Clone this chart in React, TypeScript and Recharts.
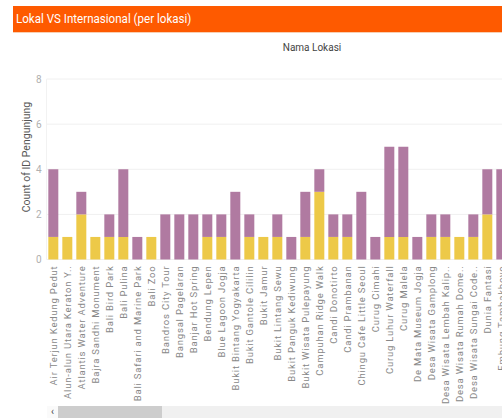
import React from 'react';
import { BarChart, Bar, XAxis, YAxis, CartesianGrid } from 'recharts';

const locations = [
  'Air Terjun Kedung Pedut',
  'Alun-alun Utara Keraton Y..',
  'Atlantis Water Adventure',
  'Bajra Sandhi Monument',
  'Bali Bird Park',
  'Bali Pulina',
  'Bali Safari and Marine Park',
  'Bali Zoo',
  'Bandros City Tour',
  'Bangsal Pagelaran',
  'Banjar Hot Spring',
  'Bendung Lepen',
  'Blue Lagoon Jogja',
  'Bukit Bintang Yogyakarta',
  'Bukit Gantole Cililin',
  'Bukit Jamur',
  'Bukit Lintang Sewu',
  'Bukit Panguk Kediwung',
  'Bukit Wisata Pulepayung',
  'Campuhan Ridge Walk',
  'Candi Donotirto',
  'Candi Prambanan',
  'Chingu Cafe Little Seoul',
  'Curug Cimahi',
  'Curug Luhur Waterfall',
  'Curug Malela',
  'De Mata Museum Jogja',
  'Desa Wisata Gamplong',
  'Desa Wisata Lembah Kalip..',
  'Desa Wisata Rumah Dome..',
  'Desa Wisata Sungai Code..',
  'Dunia Fantasi',
  'Embung Tambakboyo',
];

// yellow (bottom) and purple (top) segments
const lokal = [1, 1, 2, 1, 1, 1, 0, 1, 0, 0, 0, 1, 1, 0, 1, 1, 1, 0, 1, 3, 1, 1, 0, 0, 1, 1, 0, 1, 1, 1, 1, 2, 0];
const internasional = [3, 0, 1, 0, 1, 3, 1, 0, 2, 2, 2, 1, 1, 3, 1, 0, 1, 1, 2, 1, 1, 1, 3, 1, 4, 4, 1, 1, 1, 0, 1, 2, 4];

const yTicks = [0, 2, 4, 6, 8];

const data = locations.map((name, i) => ({
  name,
  lokal: lokal[i],
  internasional: internasional[i],
}));

const XTick = (props: any) => {
  const { x, y, payload } = props;
  const ty = y + 6;
  return (
    <text
      x={x}
      y={ty}
      dy="0.35em"
      textAnchor="end"
      transform={`rotate(-90, ${x}, ${ty})`}
      fontSize={9.5}
      letterSpacing={0.8}
      fill="#888"
      fontFamily="Roboto, sans-serif"
    >
      {payload.value}
    </text>
  );
};

export default function App() {
  return (
    <div
      style={{
        position: 'fixed',
        top: 0,
        left: 0,
        width: 502,
        height: 418,
        overflow: 'hidden',
        background: '#fff',
        fontFamily: 'Roboto, sans-serif',
      }}
    >
      <div style={{ position: 'absolute', top: 0, left: 0 }}>
        <BarChart
          width={510}
          height={418}
          data={data}
          margin={{ top: 79, right: 1.5, bottom: 0, left: 0 }}
          barCategoryGap="13%"
        >
          <CartesianGrid vertical={false} stroke="#f0f0f0" />
          <XAxis
            dataKey="name"
            interval={0}
            height={158.5}
            tickLine={false}
            axisLine={false}
            tickSize={0}
            tickMargin={0}
            tick={<XTick />}
          />
          <YAxis
            width={46.5}
            domain={[0, 8]}
            ticks={yTicks}
            tickLine={false}
            axisLine={{ stroke: '#f2f2f2' }}
            tickSize={0}
            tickMargin={5}
            tick={{ fontSize: 10, fill: '#b0b0b0' }}
          />
          <Bar dataKey="lokal" stackId="a" fill="#edc948" isAnimationActive={false} />
          <Bar dataKey="internasional" stackId="a" fill="#b07aa1" isAnimationActive={false} />
        </BarChart>
      </div>

      {/* header bar */}
      <div
        style={{
          position: 'absolute',
          top: 6,
          left: 13,
          width: 489,
          height: 27,
          background: '#fe5a00',
          borderBottom: '1px solid #f8cfb2',
          boxSizing: 'border-box',
        }}
      >
        <div
          style={{
            position: 'absolute',
            left: 3,
            top: 5,
            color: '#fff',
            fontSize: 13,
            whiteSpace: 'nowrap',
            transform: 'scaleX(0.89)',
            transformOrigin: 'left center',
          }}
        >
          Lokal VS Internasional (per lokasi)
        </div>
      </div>

      <div
        style={{
          position: 'absolute',
          top: 42,
          left: 262,
          width: 100,
          textAlign: 'center',
          fontSize: 10,
          color: '#444',
        }}
      >
        Nama Lokasi
      </div>

      <div
        style={{
          position: 'absolute',
          left: 26,
          top: 157,
          transform: 'translate(-50%, -50%) rotate(-90deg)',
          fontSize: 10.5,
          color: '#555',
          whiteSpace: 'nowrap',
        }}
      >
        Count of ID Pengunjung
      </div>

      {/* scrollbar */}
      <div
        style={{
          position: 'absolute',
          top: 406,
          left: 47,
          width: 455,
          height: 12,
          background: '#f0f0f0',
        }}
      />
      <div
        style={{
          position: 'absolute',
          top: 406,
          left: 47,
          width: 11,
          height: 12,
          background: '#fafafa',
          color: '#444',
          fontSize: 10,
          lineHeight: '12px',
          textAlign: 'center',
        }}
      >
        ‹
      </div>
      <div
        style={{
          position: 'absolute',
          top: 406,
          left: 58,
          width: 104,
          height: 12,
          background: '#cdcdcd',
        }}
      />
    </div>
  );
}
